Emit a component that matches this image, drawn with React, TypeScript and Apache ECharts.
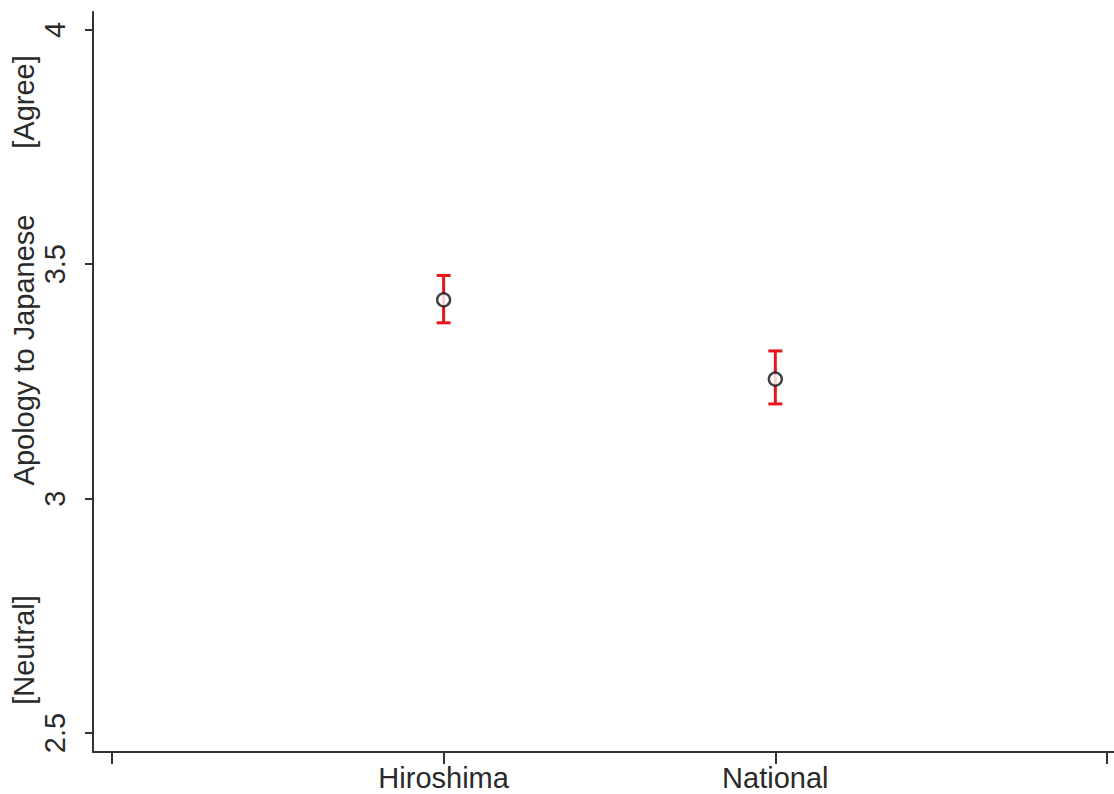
import React, { useEffect, useRef } from "react";
import * as echarts from "echarts";

const categories = ["Hiroshima", "National"];
const categoryPos = [1.5, 2.5];
const means = [3.424, 3.255];
const lower = [3.375, 3.202];
const upper = [3.476, 3.315];
const yTicks = [2.5, 3, 3.5, 4];
const xTicks = [0.5, 1.5, 2.5, 3.5];

export default function App() {
  const ref = useRef<HTMLDivElement>(null);
  useEffect(() => {
    if (!ref.current) return;
    const chart = echarts.init(ref.current, null, { renderer: "svg" });
    const font = "Liberation Sans, Arial, sans-serif";
    const axisColor = "#333";
    const textColor = "#2a2a2a";
    const fs = 29;
    chart.setOption({
      animation: false,
      backgroundColor: "#fff",
      grid: { left: 93, right: 0, top: 12, bottom: 42, containLabel: false },
      xAxis: {
        type: "value",
        min: 0.443,
        max: 3.521,
        splitLine: { show: false },
        axisLine: { show: true, onZero: false, lineStyle: { color: axisColor, width: 2 } },
        axisTick: { show: true, length: 12, customValues: xTicks, lineStyle: { color: axisColor, width: 2 } },
        axisLabel: {
          customValues: categoryPos,
          formatter: (v: number) => {
            const i = categoryPos.findIndex((p) => Math.abs(p - v) < 1e-6);
            return i >= 0 ? categories[i] : "";
          },
          fontSize: fs,
          fontFamily: font,
          color: textColor,
          margin: 11,
        },
      },
      yAxis: {
        type: "value",
        min: 2.4595,
        max: 4.038,
        splitLine: { show: false },
        axisLine: { show: true, onZero: false, lineStyle: { color: axisColor, width: 2 } },
        axisTick: { show: true, length: 8, customValues: yTicks, lineStyle: { color: axisColor, width: 2 } },
        axisLabel: {
          customValues: yTicks,
          rotate: 90,
          fontSize: fs,
          fontFamily: font,
          color: textColor,
          margin: 24,
          formatter: (v: number) => String(v),
        },
      },
      graphic: [
        {
          type: "text",
          x: 24,
          y: 350,
          rotation: Math.PI / 2,
          style: { text: "Apology to Japanese", font: `${fs}px ${font}`, fill: textColor, textAlign: "center", textVerticalAlign: "middle" },
        },
        {
          type: "text",
          x: 24,
          y: 102,
          rotation: Math.PI / 2,
          style: { text: "[Agree]", font: `${fs}px ${font}`, fill: textColor, textAlign: "center", textVerticalAlign: "middle" },
        },
        {
          type: "text",
          x: 24,
          y: 650,
          rotation: Math.PI / 2,
          style: { text: "[Neutral]", font: `${fs}px ${font}`, fill: textColor, textAlign: "center", textVerticalAlign: "middle" },
        },
      ],
      series: [
        {
          type: "custom",
          data: categoryPos.map((p, i) => [p, lower[i], upper[i]]),
          renderItem: (params: any, api: any) => {
            const x = api.value(0);
            const lo = api.coord([x, api.value(1)]);
            const hi = api.coord([x, api.value(2)]);
            const half = 7;
            const style = { stroke: "#e8141b", lineWidth: 3 };
            return {
              type: "group",
              children: [
                { type: "line", shape: { x1: lo[0], y1: lo[1], x2: hi[0], y2: hi[1] }, style },
                { type: "line", shape: { x1: lo[0] - half, y1: lo[1], x2: lo[0] + half, y2: lo[1] }, style },
                { type: "line", shape: { x1: hi[0] - half, y1: hi[1], x2: hi[0] + half, y2: hi[1] }, style },
              ],
            };
          },
          z: 2,
        },
        {
          type: "scatter",
          data: categoryPos.map((p, i) => [p, means[i]]),
          symbol: "circle",
          symbolSize: 13,
          itemStyle: { color: "#fff", borderColor: "#111", borderWidth: 2.4 },
          z: 3,
        },
      ],
    });
    return () => chart.dispose();
  }, []);
  return <div ref={ref} style={{ position: "fixed", left: 0, top: 0, width: 1114, height: 794 }} />;
}
